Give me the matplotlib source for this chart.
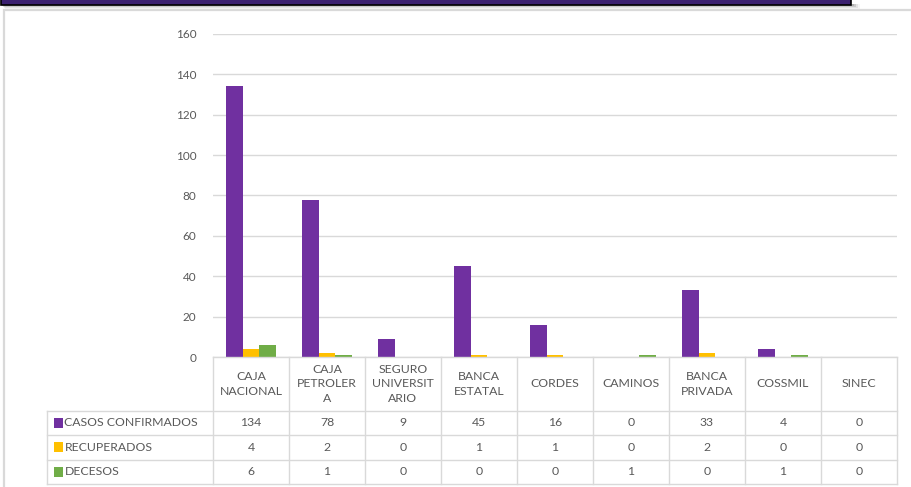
import numpy as np
import matplotlib.pyplot as plt
from matplotlib.patches import Rectangle

# data
categories = ["CAJA\nNACIONAL", "CAJA\nPETROLER\nA", "SEGURO\nUNIVERSIT\nARIO",
              "BANCA\nESTATAL", "CORDES", "CAMINOS", "BANCA\nPRIVADA",
              "COSSMIL", "SINEC"]
series_names = ["CASOS CONFIRMADOS", "RECUPERADOS", "DECESOS"]
confirmados = [134, 78, 9, 45, 16, 0, 33, 4, 0]
recuperados = [4, 2, 0, 1, 1, 0, 2, 0, 0]
decesos = [6, 1, 0, 0, 0, 1, 0, 1, 0]
colors = ["#7030A0", "#FFC000", "#70AD47"]
y_ticks = [0, 20, 40, 60, 80, 100, 120, 140, 160]

plt.rcParams["font.family"] = ["Lato", "DejaVu Sans"]
txt = "#595959"
grid = "#D9D9D9"

W, H = 911, 487
fig = plt.figure(figsize=(W / 100, H / 100), dpi=100)


def px_rect(x0, y0, x1, y1, **kw):
    # rectangle given in pixel coords (origin top-left)
    return Rectangle((x0 / W, 1 - y1 / H), (x1 - x0) / W, (y1 - y0) / H,
                     transform=fig.transFigure, **kw)


# soft shadow under the banner
for k, a in enumerate([0.35, 0.25, 0.15, 0.08]):
    fig.patches.append(px_rect(2 + k, 4, 852 + 2 * k + 2, 6 + k, facecolor="#808080",
                               edgecolor="none", alpha=a))
# banner
fig.patches.append(px_rect(1, -3, 851, 4.5, facecolor="#3B2070", edgecolor="#000000", lw=1.2))
# chart frame
fig.patches.append(px_rect(4, 10, 912, 490, facecolor="none", edgecolor="#D9D9D9", lw=1.6))

# bar chart
x_left, x_right = 213, 897
y_top, y_zero, y_bot = 34, 357, 484
ax = fig.add_axes([x_left / W, 1 - y_zero / H, (x_right - x_left) / W, (y_zero - y_top) / H])
x = np.arange(len(categories))
w = 0.22
for i, (vals, c) in enumerate(zip([confirmados, recuperados, decesos], colors)):
    ax.bar(x + (i - 1) * w, vals, width=w, color=c, zorder=3)
ax.set_xlim(-0.5, len(categories) - 0.5)
ax.set_ylim(0, 160)
ax.set_yticks(y_ticks)
ax.yaxis.grid(True, color=grid, lw=1, zorder=0)
ax.tick_params(axis="y", length=0, pad=12, labelsize=8.5, labelcolor=txt)
ax.set_xticks([])
for s in ax.spines.values():
    s.set_visible(False)

# data table underneath
legend_w = (x_left - 47) / ((x_right - x_left) / len(categories))
tax = fig.add_axes([47 / W, 1 - y_bot / H, (x_right - 47) / W, (y_bot - y_zero) / H])
tax.set_xlim(-0.5 - legend_w, len(categories) - 0.5)
head_h = 2.2
tax.set_ylim(3 + head_h, 0)
tax.axis("off")

for j in range(len(categories) + 1):
    tax.plot([j - 0.5, j - 0.5], [0, 3 + head_h], color=grid, lw=1, clip_on=False)
tax.plot([-0.5 - legend_w] * 2, [head_h, 3 + head_h], color=grid, lw=1, clip_on=False)
tax.plot([-0.5, len(categories) - 0.5], [0, 0], color=grid, lw=1, clip_on=False)
for r in range(4):
    tax.plot([-0.5 - legend_w, len(categories) - 0.5], [head_h + r] * 2,
             color=grid, lw=1, clip_on=False)

for j, cat in enumerate(categories):
    tax.text(j, head_h / 2, cat, ha="center", va="center", fontsize=8.8,
             color=txt, linespacing=1.4)

for r, (name, vals, c) in enumerate(zip(series_names, [confirmados, recuperados, decesos], colors)):
    yc = head_h + r + 0.5
    tax.add_patch(Rectangle((-0.5 - legend_w + 0.09, yc - 0.2), 0.12, 0.4,
                            facecolor=c, edgecolor="none"))
    tax.text(-0.5 - legend_w + 0.23, yc, name, ha="left", va="center",
             fontsize=8.8, color=txt)
    for j, v in enumerate(vals):
        tax.text(j, yc, str(v), ha="center", va="center", fontsize=8.8, color=txt)

fig.savefig("out.png", dpi=100)
